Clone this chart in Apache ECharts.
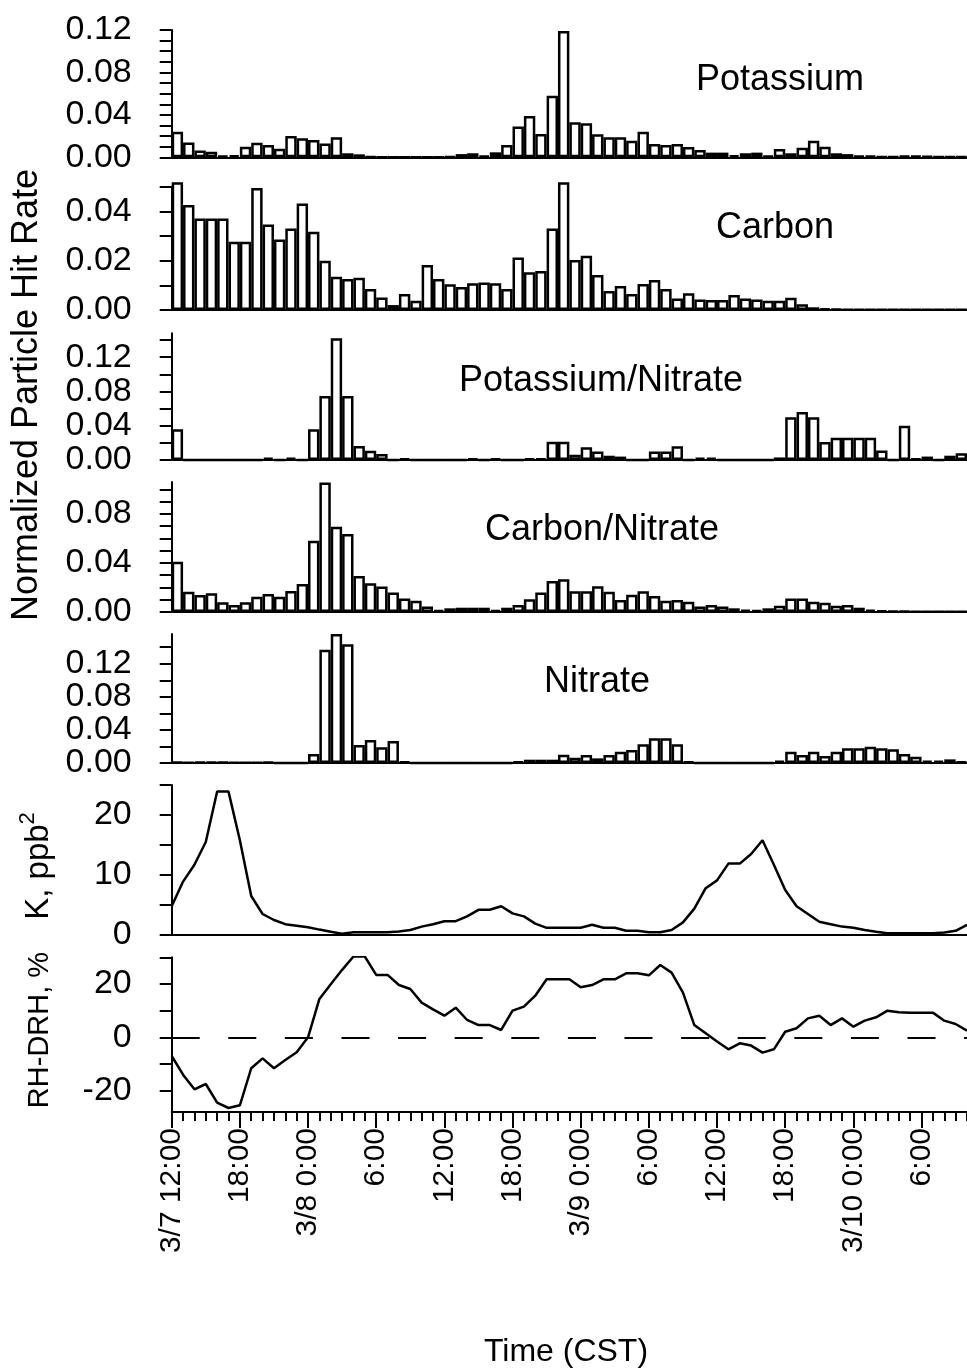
<!DOCTYPE html>
<html><head><meta charset="utf-8">
<script src="https://cdn.jsdelivr.net/npm/echarts@6/dist/echarts.min.js"></script>
<style>html,body{margin:0;padding:0;background:#fff}#c{width:967px;height:1370px}</style>
</head><body><div id="c"></div>
<script>
// hourly bins starting 3/7 12:00 CST
const potassium = [0.024,0.014,0.0063,0.0053,0.0016,0.002,0.010,0.0138,0.0116,0.008,
 0.020,0.018,0.0163,0.013,0.019,0.0038,0.0028,0.0006,0.0003,0.0002,
 0.0002,0.0003,0.0002,0.0003,0.0006,0.003,0.0038,0.0016,0.0047,0.0116,
 0.029,0.039,0.022,0.058,0.119,0.033,0.032,0.0217,0.0188,0.0188,
 0.0157,0.024,0.0126,0.0116,0.0126,0.0097,0.0069,0.0044,0.0044,0.0022,
 0.0038,0.0044,0.0013,0.0079,0.0038,0.0091,0.0157,0.010,0.0038,0.003,
 0.0013,0.0013,0.0006,0.0006,0.0013,0.0013,0.001,0.0006,0.0006,0.0006];
const carbon = [0.0518,0.0426,0.0371,0.0371,0.0371,0.0277,0.0277,0.0495,0.0347,0.0286,
 0.0331,0.0432,0.0317,0.020,0.0135,0.0126,0.0131,0.0085,0.0051,0.002,
 0.0065,0.0038,0.0182,0.0126,0.0104,0.0093,0.0108,0.0112,0.0108,0.0085,
 0.0213,0.0153,0.0158,0.0331,0.0518,0.0203,0.022,0.0142,0.0077,0.0097,
 0.0065,0.0105,0.0122,0.0085,0.0047,0.0068,0.0043,0.0041,0.0041,0.0061,
 0.0047,0.0043,0.0038,0.0038,0.005,0.0023,0.0011,0.0007,0.0004,0.0003,
 0.0003,0.0003,0.0003,0.0003,0.0003,0.0003,0.0003,0.0003,0.0003,0.0003];
const potassiumNitrate = [0.036,0,0,0,0,0,0,0,0.0027,0,
 0.0027,0,0.036,0.0747,0.142,0.0747,0.0163,0.0109,0.007,0,
 0.002,0,0,0,0,0,0.002,0,0.002,0,
 0,0.002,0.002,0.0214,0.0214,0.006,0.015,0.01,0.005,0.004,
 0,0,0.01,0.01,0.016,0,0.0027,0.0027,0,0,
 0,0,0,0.003,0.05,0.056,0.05,0.021,0.026,0.026,
 0.026,0.026,0.011,0,0.04,0.002,0.004,0,0.005,0.008];
const carbonNitrate = [0.041,0.0166,0.0139,0.0152,0.0079,0.0057,0.0079,0.0125,0.0147,0.0125,
 0.0171,0.0228,0.058,0.1055,0.0696,0.0636,0.0294,0.0234,0.0207,0.016,
 0.0111,0.0092,0.0044,0.0016,0.003,0.0035,0.0035,0.0035,0.0016,0.0035,
 0.0057,0.0103,0.0158,0.0253,0.0267,0.017,0.017,0.021,0.0166,0.0098,
 0.014,0.017,0.013,0.0092,0.0098,0.0084,0.0044,0.0057,0.0044,0.003,
 0.002,0.0016,0.003,0.005,0.011,0.011,0.0084,0.0076,0.005,0.0057,
 0.0035,0.002,0.0014,0.001,0.0008,0.0004,0.0003,0.0003,0.0003,0.0003];
const nitrate = [0.001,0.0005,0.0015,0.0015,0.001,0.0005,0.0005,0.0005,0.0015,0,
 0,0,0.011,0.137,0.156,0.1435,0.0218,0.0278,0.019,0.0266,
 0.0016,0,0,0,0,0,0,0,0,0,
 0.0016,0.004,0.004,0.004,0.010,0.0064,0.0097,0.0056,0.0097,0.0137,
 0.0157,0.0226,0.0298,0.0298,0.0226,0.0016,0,0,0,0,
 0,0,0,0.0028,0.0137,0.0097,0.0137,0.0085,0.0137,0.0177,
 0.0177,0.0197,0.0177,0.0165,0.011,0.0077,0.0028,0.0028,0.0044,0.0016];
// hourly points, hour 0 = 3/7 12:00
const kPpb2 = [4.8,8.9,11.7,15.5,23.9,23.9,15.8,6.5,3.5,2.5,
 1.8,1.55,1.3,0.9,0.55,0.2,0.45,0.45,0.45,0.45,
 0.6,0.83,1.4,1.8,2.3,2.3,3.1,4.2,4.2,4.8,
 3.6,3.1,1.9,1.2,1.2,1.2,1.2,1.7,1.2,1.2,
 0.7,0.7,0.45,0.45,0.83,2.1,4.4,7.8,9.1,11.9,
 11.9,13.5,15.8,11.7,7.5,4.8,3.5,2.2,1.8,1.4,
 1.2,0.83,0.55,0.28,0.28,0.28,0.28,0.28,0.4,0.7,
 1.7];
const rhDrh = [-7,-14,-19.5,-17.5,-24.5,-26.5,-25.5,-11.6,-7.9,-11.6,
 -8.5,-5.6,0,14.4,19.9,25.3,30.3,30.3,23.4,23.4,
 19.6,18.1,13,10.5,8.1,11.1,6.5,4.6,4.6,2.75,
 10,11.5,15.6,21.75,21.75,21.75,18.75,19.6,21.75,21.75,
 24,24,23.25,27.1,24.25,16.75,4.6,1.5,-1.6,-4.5,
 -2.25,-3.1,-5.75,-4.5,2.1,3.4,7.1,8.1,4.6,7.1,
 4,6.25,7.5,10,9.4,9.25,9.25,9.25,6.25,5,
 2.5];
const xTickHours = [0,6,12,18,24,30,36,42,48,54,60,66];
const xTickLabels = ['3/7 12:00','18:00','3/8 0:00','6:00','12:00','18:00','3/9 0:00','6:00','12:00','18:00','3/10 0:00','6:00'];
const xMinorHours = Array.from({length:71},(_, i)=>i);
const potTicks = [0,0.01,0.02,0.03,0.04,0.05,0.06,0.07,0.08,0.09,0.10,0.11,0.12];
const potLabels = [0,0.04,0.08,0.12];
const carTicks = [0,0.01,0.02,0.03,0.04,0.05];
const carLabels = [0,0.02,0.04];
const knTicks = [0,0.02,0.04,0.06,0.08,0.10,0.12,0.14];
const knLabels = [0,0.04,0.08,0.12];
const cnTicks = [0,0.01,0.02,0.03,0.04,0.05,0.06,0.07,0.08,0.09,0.10];
const cnLabels = [0,0.04,0.08];
const nTicks = [0,0.02,0.04,0.06,0.08,0.10,0.12,0.14];
const nLabelsA = [0,0.08];
const nLabelsB = [0.04,0.12];
const kTicks = [0,5,10,15,20,25];
const kLabels = [0,10,20];
const rhTicks = [-20,-10,0,10,20,30];
const rhLabels = [-20,0,20];
const panelNames = ['Potassium','Carbon','Potassium/Nitrate','Carbon/Nitrate','Nitrate'];

const FONT = 'Liberation Sans';
const FS = 34;
const grids = [
  {top:30, height:127.3},
  {top:186.7, height:123.3},
  {top:333.2, height:126.8},
  {top:482, height:130},
  {top:634, height:129},
  {top:785, height:150},
  {top:957.3, height:154.7}
].map(g => ({left:171.7, width:797.3, top:g.top, height:g.height, containLabel:false}));

const black = {color:'#000', width:2};
function xAx(i){
  return {type:'value', gridIndex:i, min:0, max:70,
    axisLine:{show:true, onZero:false, lineStyle:black},
    axisTick:{show:false}, axisLabel:{show:false}, splitLine:{show:false}};
}
function yAx(i, min, max, ticks, labels, fmt, bare){
  return {type:'value', gridIndex:i, min:min, max:max, position:'left', offset:0,
    axisLine:{show:!bare, onZero:false, lineStyle:black},
    axisTick:{show:!bare, customValues:ticks, length:12, lineStyle:black},
    axisLabel:{show:true, customValues:labels, formatter:fmt, color:'#000', fontSize:FS, fontFamily:FONT,
      margin:40, hideOverlap:false, showMinLabel:true, showMaxLabel:true},
    splitLine:{show:false}};
}
const f2 = v => v.toFixed(2);
const f0 = v => String(Math.round(v));

const xAxes = [0,1,2,3,4,5].map(xAx);
xAxes.push({type:'value', gridIndex:6, min:0, max:70, position:'bottom',
  axisLine:{show:true, onZero:false, lineStyle:black},
  axisTick:{show:true, customValues:xTickHours, length:16, lineStyle:black},
  axisLabel:{show:true, customValues:xTickHours, rotate:90, margin:16, color:'#000', fontSize:30, fontFamily:FONT,
    hideOverlap:false, showMinLabel:true, showMaxLabel:true,
    formatter: v => xTickLabels[xTickHours.indexOf(Math.round(v))] || ''},
  splitLine:{show:false}});
xAxes.push({type:'value', gridIndex:6, min:0, max:70, position:'bottom',
  axisLine:{show:false, onZero:false},
  axisTick:{show:true, customValues:xMinorHours, length:9, lineStyle:black},
  axisLabel:{show:false}, splitLine:{show:false}});

const yAxes = [
  yAx(0, 0, 0.12, potTicks, potLabels, f2),
  yAx(1, 0, 0.05, carTicks, carLabels, f2),
  yAx(2, 0, 0.148, knTicks, knLabels, f2),
  yAx(3, 0, 0.106, cnTicks, cnLabels, f2),
  yAx(4, 0, 0.156, nTicks, nLabelsA, f2),
  yAx(5, 0, 25, kTicks, kLabels, f0),
  yAx(6, -28, 30, rhTicks, rhLabels, f0),
  yAx(4, 0, 0.156, nTicks, nLabelsB, f2, true)
];

function barSeries(i, arr){
  return {type:'bar', xAxisIndex:i, yAxisIndex:i, clip:false, barWidth:11.39,
    data: arr.map((v, k) => [k + 0.5, v]),
    itemStyle:{color:'#fff', borderColor:'#000', borderWidth:2.5},
    emphasis:{disabled:true}};
}
const series = [
  barSeries(0, potassium), barSeries(1, carbon), barSeries(2, potassiumNitrate),
  barSeries(3, carbonNitrate), barSeries(4, nitrate),
  {type:'line', xAxisIndex:5, yAxisIndex:5, showSymbol:false, symbol:'none', clip:true,
    data: kPpb2.map((v, k) => [k, v]), lineStyle:{color:'#000', width:2.5}},
  {type:'line', xAxisIndex:6, yAxisIndex:6, showSymbol:false, symbol:'none', clip:true,
    data: rhDrh.map((v, k) => [k, v]), lineStyle:{color:'#000', width:2.5},
    markLine:{silent:true, symbol:['none','none'], label:{show:false}, animation:false,
      lineStyle:{color:'#000', width:2, type:[28,28.6]}, data:[{yAxis:0}]}}
];

function txt(t, x, y, rot, fs){
  return {type:'text', x:x, y:y, rotation:rot||0,
    style:{text:t, fill:'#000', font: fs + 'px "' + FONT + '"', fontSize:fs, fontFamily:FONT,
      align:'center', verticalAlign:'middle', textAlign:'center', textVerticalAlign:'middle'}};
}
const labelPos = [[780,80],[775,228],[601,381],[602,530],[597,682]];
const graphic = panelNames.map((n, i) => txt(n, labelPos[i][0], labelPos[i][1], 0, 36));
graphic.push(txt('Normalized Particle Hit Rate', 27, 395, Math.PI/2, 36));
graphic.push({type:'text', x:39, y:866, rotation:Math.PI/2,
  style:{text:'{a|K, ppb}{b|2}', fill:'#000', align:'center', verticalAlign:'middle', textAlign:'center', textVerticalAlign:'middle',
    rich:{a:{fontSize:33, fontFamily:FONT, lineHeight:44, fill:'#000'}, b:{fontSize:22, fontFamily:FONT, lineHeight:22, verticalAlign:'top', fill:'#000'}}}});
graphic.push(txt('RH-DRH, %', 40, 1030, Math.PI/2, 29));
graphic.push(txt('Time (CST)', 566, 1352, 0, 32));

const chart = echarts.init(document.getElementById('c'), null, {renderer:'canvas'});
chart.setOption({animation:false, backgroundColor:'#fff', grid:grids, xAxis:xAxes, yAxis:yAxes, series:series, graphic:graphic});
</script></body></html>
